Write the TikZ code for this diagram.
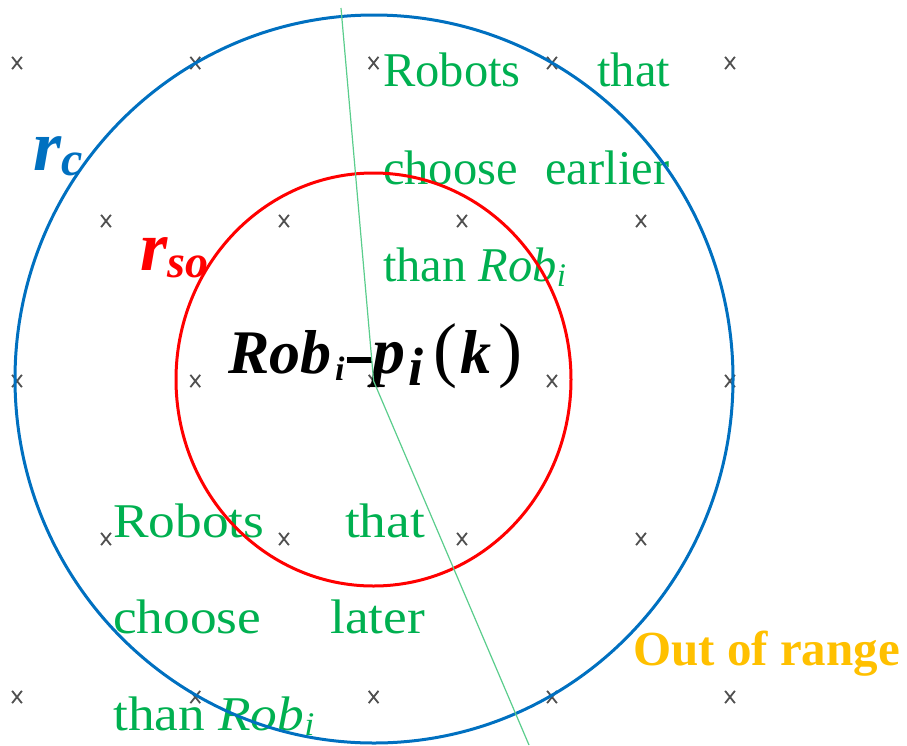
\documentclass[tikz,border=0pt]{standalone}
\usepackage{fontspec}
\setmainfont{Liberation Serif}
\usetikzlibrary{shapes.misc}
\definecolor{cblue}{HTML}{0070C0}
\definecolor{cred}{HTML}{FF0000}
\definecolor{cgreen}{HTML}{00B050}
\definecolor{lgreen}{RGB}{90,205,140}
\definecolor{corange}{HTML}{FFC000}
\definecolor{cgray}{RGB}{80,80,80}
\begin{document}
\begin{tikzpicture}[x=1pt,y=-1pt,
  mk/.style={cross out,draw=cgray,line width=1.8pt,minimum width=8pt,minimum height=10.5pt,inner sep=0pt},
  gtxt/.style={text=cgreen,font=\fontsize{48.5}{48.5}\selectfont,inner sep=0pt,anchor=base west},
  lbl/.style={inner sep=0pt,anchor=base west},
]
\useasboundingbox (0,0) rectangle (907,745);
% grid marks
\foreach \x [count=\i] in {17,195.3,373.6,552,730}{
  \node[mk] (a\i) at (\x,63) {};
  \node[mk] (c\i) at (\x,381) {};
  \node[mk] (e\i) at (\x,697) {};
}
\foreach \x [count=\i] in {106,284,462,641}{
  \node[mk] (b\i) at (\x,221) {};
  \node[mk] (d\i) at (\x,539) {};
}
% green texts
\node[gtxt] (t1) at (383,86) {\makebox[287pt][s]{Robots\hfill that}};
\node[gtxt] (t2) at (383,184) {\makebox[286pt][s]{choose\hfill earlier}};
\node[gtxt] (t3) at (383,281) {than \textit{Rob}\raisebox{-5pt}{\fontsize{33}{33}\selectfont\textit{i}}};
\node[gtxt] (u1) at (113,537) {\scalebox{1.1}[1]{\makebox[283.6pt][s]{Robots\hfill that}}};
\node[gtxt] (u2) at (113,633) {\scalebox{1.1}[1]{\makebox[283.6pt][s]{choose\hfill later}}};
\node[gtxt] (u3) at (113,730) {\scalebox{1.1}[1]{than \textit{Rob}\raisebox{-5pt}{\fontsize{33}{33}\selectfont\textit{i}}}};
% centre label
\node[lbl,font=\fontsize{62}{62}\selectfont\bfseries\itshape] (rob) at (228,373)
  {\makebox[104pt][l]{Rob}\makebox[15pt][l]{\kern3pt\raisebox{-7pt}{\fontsize{34}{34}\selectfont i}}\makebox[25pt][l]{\rule[10pt]{25pt}{6pt}}\makebox[36pt][l]{\fontsize{66}{66}\selectfont p}\makebox[25pt][l]{\raisebox{-12pt}{\fontsize{54}{54}\selectfont i}}\makebox[25pt][c]{\fontsize{72}{72}\selectfont\mdseries\upshape(}\makebox[35pt][c]{\fontsize{62}{62}\selectfont k}\makebox[34pt][c]{\fontsize{72}{72}\selectfont\mdseries\upshape)}};
% radius labels
\node[lbl,text=cblue,font=\fontsize{72}{72}\selectfont\bfseries\itshape] (rc) at (33,170)
  {r\raisebox{-5pt}{\fontsize{48}{48}\selectfont c}};
\node[lbl,text=cred,font=\fontsize{70}{70}\selectfont\bfseries\itshape] (rso) at (140,270)
  {r\raisebox{-7pt}{\fontsize{46}{46}\selectfont so}};
\node[lbl,text=corange,font=\fontsize{49}{49}\selectfont\bfseries] (out) at (633,665) {Out of range};
% circles
\draw[cblue,line width=3pt] (374,379) ellipse [x radius=359, y radius=364];
\draw[cred,line width=3pt] (373.5,379.5) ellipse [x radius=197.5, y radius=206.5];
% dividing line
\coordinate (g1) at (341,8);
\coordinate (g3) at (529,745);
\draw[lgreen,line width=1.2pt] (g1) -- (c3.center) -- (g3);
\end{tikzpicture}
\end{document}
